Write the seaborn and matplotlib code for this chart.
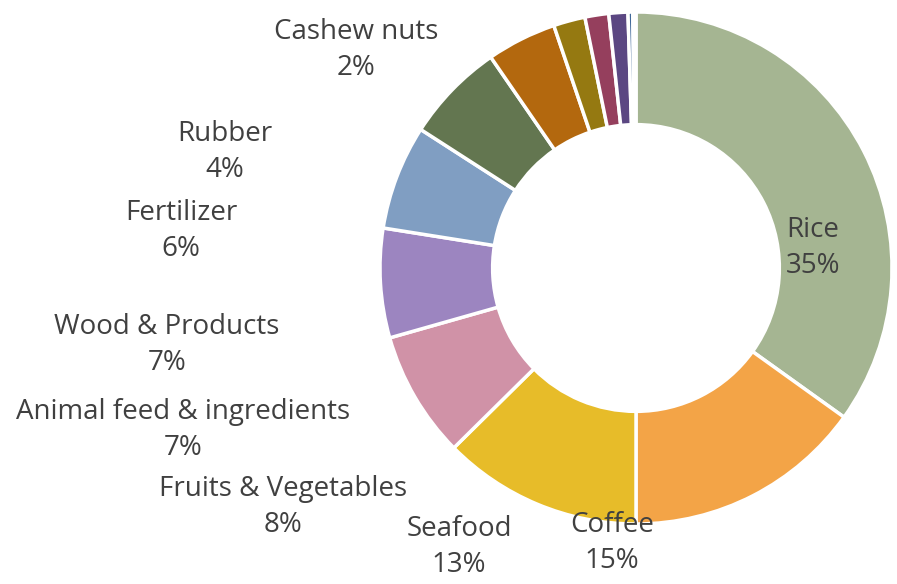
import seaborn as sns
import matplotlib.pyplot as plt

sns.set_style("white")
plt.rcParams['font.family'] = ['Open Sans', 'DejaVu Sans']

# export share by product, clockwise from 12 o'clock
products = ["Rice", "Coffee", "Seafood", "Fruits & Vegetables",
            "Animal feed & ingredients", "Wood & Products", "Fertilizer",
            "Rubber", "Cashew nuts", "Other 1", "Other 2", "Other 3", "Other 4"]
shares = [34.9, 15.1, 12.6, 8.0, 6.9, 6.6, 6.3, 4.4, 2.0, 1.5, 1.2, 0.3, 0.2]
labelled = products[:9]

colors = ["#A5B592", "#F3A447", "#E7BC29", "#D092A7", "#9C85C0", "#809EC2",
          "#637650", "#B3680E", "#957911", "#953F5D", "#5B4782", "#3F6899",
          "#D9D9D9"]

# label centres in pixels of the 897x584 canvas
label_px = [(813, 248), (612, 543), (459, 547), (283, 507), (183, 430),
            (167, 345), (181, 231), (225, 152), (356, 50)]

W, H = 897, 584
cx, cy, R = 636, 268, 256

fig = plt.figure(figsize=(W / 100, H / 100), dpi=100)
ax = fig.add_axes([0, 0, 1, 1])

ax.pie(shares, colors=colors, startangle=90, counterclock=False, radius=1,
       wedgeprops=dict(width=0.44, edgecolor="white", linewidth=2.5))

ax.set_xlim(-cx / R, (W - cx) / R)
ax.set_ylim(-(H - cy) / R, cy / R)
ax.set_aspect("equal")
ax.axis("off")

for name, val, (px, py) in zip(labelled, shares, label_px):
    ax.text((px - cx) / R, (cy - py) / R, f"{name}\n{val:.0f}%",
            ha="center", va="center", fontsize=20, color="#404040",
            linespacing=1.35)

fig.savefig("out.png", dpi=100)
